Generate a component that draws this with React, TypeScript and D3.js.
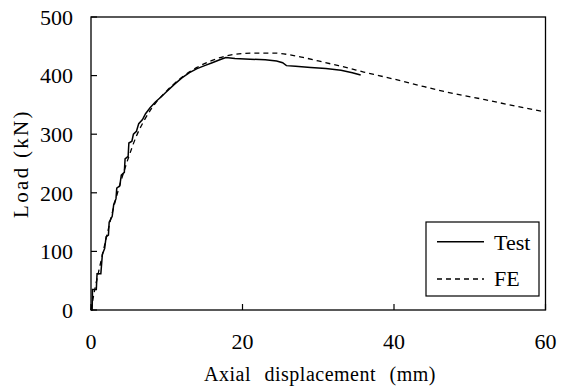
import React from "react";
import * as d3 from "d3";

const testDisp = [0, 0.15, 0.2, 0.7, 0.8, 1.3, 1.5, 1.8, 2.0, 2.3, 2.4, 2.8, 3.0, 3.3, 3.4, 3.8, 4.0, 4.4, 4.5, 4.9, 5.0, 5.4, 5.6, 6.0, 6.3, 6.8, 7.2, 7.8, 8.5, 9.2, 10, 11, 12, 13, 14, 15, 16, 17, 17.8, 19, 21, 23, 24.5, 25.3, 25.8, 27, 29, 31, 33, 34.5, 35.6];
const testLoad = [0, 0, 35, 35, 62, 62, 95, 105, 125, 128, 150, 160, 180, 190, 208, 212, 230, 235, 258, 262, 285, 288, 300, 305, 318, 325, 335, 345, 355, 363, 373, 385, 396, 405, 412, 417, 422, 427, 431, 429, 428, 427, 425, 422, 417, 416, 414, 412, 409, 405, 401];

const feDisp = [0, 0.5, 1, 2, 3, 4, 5, 6, 7, 8, 10, 12, 14, 16, 18, 20, 22, 24, 26, 28, 30, 32, 34, 36, 38, 40, 44, 48, 52, 56, 60];
const feLoad = [0, 35, 65, 122, 176, 222, 262, 297, 323, 344, 374, 397, 414, 426, 434, 437.5, 438.5, 438.5, 436, 431, 425, 419, 413, 406, 400, 394, 381, 369, 359, 348, 338];

const xTicks = [0, 20, 40, 60];
const yTicks = [0, 100, 200, 300, 400, 500];
const seriesNames = ["Test", "FE"];

const W = 561, H = 390;
const left = 91, right = 545.5, top = 17, bottom = 310;
const FONT = "Liberation Serif";

export default function App() {
  const x = d3.scaleLinear().domain([0, 60]).range([left, right]);
  const y = d3.scaleLinear().domain([0, 500]).range([bottom, top]);
  const line = d3.line<[number, number]>().x(d => x(d[0])).y(d => y(d[1]));
  const testPts = testDisp.map((d, i) => [d, testLoad[i]] as [number, number]);
  const fePts = feDisp.map((d, i) => [d, feLoad[i]] as [number, number]);
  const feSmooth = d3.line<[number, number]>().x(d => x(d[0])).y(d => y(d[1])).curve(d3.curveMonotoneX);

  return (
    <svg width={W} height={H} fontFamily={FONT} style={{ position: "absolute", left: 0, top: 0, background: "#fff", fontFamily: FONT }}>
      <rect x={0} y={0} width={W} height={H} fill="#fff" />
      <path d={feSmooth(fePts) || ""} fill="none" stroke="#000" strokeWidth={1.3} strokeDasharray="5,4" />
      <path d={line(testPts) || ""} fill="none" stroke="#000" strokeWidth={1.5} />
      <rect x={left} y={top} width={right - left} height={bottom - top} fill="none" stroke="#000" strokeWidth={1.3} />
      {yTicks.map(t => (
        <g key={"y" + t}>
          <line x1={left} x2={left + 6} y1={y(t)} y2={y(t)} stroke="#000" strokeWidth={1.2} />
          <text x={73} y={y(t)} dy="0.35em" textAnchor="end" fontFamily={FONT} fontSize={22}>{t}</text>
        </g>
      ))}
      {xTicks.map(t => (
        <g key={"x" + t}>
          <line x1={x(t)} x2={x(t)} y1={bottom} y2={bottom - 6} stroke="#000" strokeWidth={1.2} />
          <text x={x(t)} y={349} textAnchor="middle" fontFamily={FONT} fontSize={22}>{t}</text>
        </g>
      ))}
      <text x={320} y={381} textAnchor="middle" fontFamily={FONT} fontSize={20} wordSpacing={8} letterSpacing={0.5}>Axial displacement (mm)</text>
      <text transform={`translate(28,${(top + bottom) / 2}) rotate(-90)`} textAnchor="middle" fontFamily={FONT} fontSize={21} letterSpacing={2.3}>Load (kN)</text>
      <rect x={426} y={222} width={113} height={74} fill="#fff" stroke="#000" strokeWidth={1.2} />
      <line x1={437} x2={484} y1={241.7} y2={241.7} stroke="#000" strokeWidth={1.5} />
      <text x={494} y={250} fontFamily={FONT} fontSize={22}>{seriesNames[0]}</text>
      <line x1={437} x2={484} y1={279} y2={279} stroke="#000" strokeWidth={1.3} strokeDasharray="5,4" />
      <text x={494} y={286} fontFamily={FONT} fontSize={22}>{seriesNames[1]}</text>
    </svg>
  );
}
